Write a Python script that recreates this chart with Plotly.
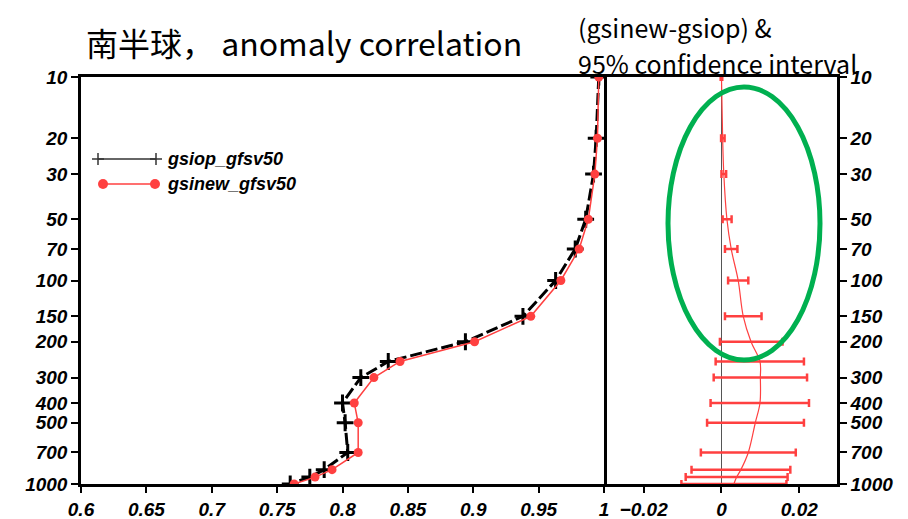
import plotly.graph_objects as go

# ---------------- data ----------------
levels = [10, 20, 30, 50, 70, 100, 150, 200, 250, 300, 400, 500, 700, 850, 925, 1000]
ytick_vals = [10, 20, 30, 50, 70, 100, 150, 200, 300, 400, 500, 700, 1000]
ytick_text = ["10", "20", "30", "50", "70", "100", "150", "200", "300", "400", "500", "700", "1000"]

gsiop = [0.996, 0.994, 0.992, 0.986, 0.978, 0.963, 0.938, 0.894, 0.835, 0.814,
         0.800, 0.802, 0.804, 0.786, 0.775, 0.760]
gsinew = [0.996, 0.995, 0.993, 0.988, 0.981, 0.967, 0.944, 0.901, 0.844, 0.824,
          0.809, 0.812, 0.812, 0.792, 0.779, 0.763]

diff = [0.0000, 0.0003, 0.0006, 0.0014, 0.0025, 0.0043, 0.0056, 0.0076, 0.0099, 0.0100,
        0.0099, 0.0087, 0.0069, 0.0050, 0.0039, 0.0032]
ci_lo = [-0.0002, -0.0001, 0.0000, 0.0003, 0.0009, 0.0017, 0.0009, -0.0004, -0.0015, -0.0020,
         -0.0028, -0.0037, -0.0053, -0.0077, -0.0092, -0.0103]
ci_hi = [0.0002, 0.0008, 0.0012, 0.0026, 0.0041, 0.0069, 0.0103, 0.0157, 0.0212, 0.0220,
         0.0225, 0.0212, 0.0191, 0.0177, 0.0170, 0.0167]

x1_ticks = [0.6, 0.65, 0.7, 0.75, 0.8, 0.85, 0.9, 0.95, 1.0]
x1_text = ["0.6", "0.65", "0.7", "0.75", "0.8", "0.85", "0.9", "0.95", "1"]
x2_ticks = [-0.02, 0, 0.02]
x2_text = ["\u22120.02", "0", "0.02"]

names = ["gsiop_gfsv50", "gsinew_gfsv50"]

# ---------------- styles ----------------
RED = "#ff4040"
GREEN = "#00b050"
tickfont = dict(family="Liberation Sans", size=19, color="black", weight="bold", style="italic")

# page body has an 8px margin; size figure so the plot lands where the reference has it
OFF = 8
W, H = 900, 511
L, R, T, B = 81 - OFF, 71, 77 - OFF, 35
pw = W - L - R
ph = H - T - B
PLOT_L, PLOT_B = 81, 484  # window pixel coords of plot area corner


def px(xp):
    return (xp - PLOT_L) / pw


def py(yp):
    return (PLOT_B - yp) / ph


split = px(604)

fig = go.Figure()

# left panel: anomaly correlation
fig.add_trace(go.Scatter(
    x=gsiop, y=levels, mode="lines+markers", name=names[0],
    line=dict(color="black", width=3, dash="12px,4px"),
    marker=dict(symbol="cross-thin", size=12, line=dict(color="black", width=3)),
    xaxis="x", yaxis="y", showlegend=False))
fig.add_trace(go.Scatter(
    x=gsinew, y=levels, mode="lines+markers", name=names[1],
    line=dict(color=RED, width=1.5),
    marker=dict(symbol="circle", size=9, color=RED),
    xaxis="x", yaxis="y", showlegend=False))

# right panel: difference with 95% CI
err_plus = [h - d for h, d in zip(ci_hi, diff)]
err_minus = [d - l for l, d in zip(ci_lo, diff)]
fig.add_trace(go.Scatter(
    x=diff, y=levels, mode="lines",
    line=dict(color=RED, width=1.2, shape="spline"),
    error_x=dict(type="data", array=err_plus, arrayminus=err_minus,
                 color=RED, thickness=2.5, width=4, symmetric=False),
    xaxis="x2", yaxis="y2", showlegend=False))

axis_common = dict(showline=True, linecolor="black", linewidth=2.5,
                   ticks="outside", tickcolor="black", tickwidth=2, showgrid=False,
                   tickfont=tickfont, automargin=False)

fig.update_layout(
    width=W, height=H,
    margin=dict(l=L, r=R, t=T, b=B, autoexpand=False),
    paper_bgcolor="white", plot_bgcolor="white",
    xaxis=dict(domain=[0, split], range=[0.6, 1.0], tickvals=x1_ticks, ticktext=x1_text,
               zeroline=False, ticklen=6, anchor="y", mirror=True, **axis_common),
    yaxis=dict(type="log", range=[3, 1], tickvals=ytick_vals, ticktext=ytick_text,
               zeroline=False, ticklen=7, anchor="x", mirror=True, **axis_common),
    xaxis2=dict(domain=[split, 1], range=[-0.0302, 0.0297], tickvals=x2_ticks, ticktext=x2_text,
                zeroline=True, zerolinecolor="#555555", zerolinewidth=1.2, ticklen=6,
                anchor="y2", mirror=True, **axis_common),
    yaxis2=dict(type="log", range=[3, 1], tickvals=ytick_vals, ticktext=ytick_text,
                side="right", zeroline=False, ticklen=7, anchor="x2", mirror=False, **axis_common),
)

shapes = []
# green ellipse highlighting upper levels
shapes.append(dict(type="circle", xref="paper", yref="paper",
                   x0=px(668), x1=px(820), y0=py(360), y1=py(87),
                   line=dict(color=GREEN, width=5)))

# custom legend (line with symbols at both ends)
ly1, ly2 = py(159), py(184)
shapes.append(dict(type="line", xref="paper", yref="paper", x0=px(98), x1=px(156), y0=ly1, y1=ly1,
                   line=dict(color="#333333", width=1.5)))
for xc in (98, 156):
    shapes.append(dict(type="line", xref="paper", yref="paper", x0=px(xc - 6), x1=px(xc + 6),
                       y0=ly1, y1=ly1, line=dict(color="#333333", width=1.5)))
    shapes.append(dict(type="line", xref="paper", yref="paper", x0=px(xc), x1=px(xc),
                       y0=py(153), y1=py(165), line=dict(color="#333333", width=1.5)))
shapes.append(dict(type="line", xref="paper", yref="paper", x0=px(103), x1=px(155), y0=ly2, y1=ly2,
                   line=dict(color=RED, width=1.5)))
for xc in (103, 155):
    shapes.append(dict(type="circle", xref="paper", yref="paper", x0=px(xc - 5), x1=px(xc + 5),
                       y0=py(189), y1=py(179), fillcolor=RED, line=dict(color=RED, width=0)))
fig.update_layout(shapes=shapes)

legfont = dict(family="Liberation Sans", size=18, color="black", weight="bold", style="italic")
titlefont = dict(family="Noto Sans CJK SC", size=32, color="black")
title2font = dict(family="Noto Sans CJK SC", size=25, color="black")
annotations = [
    dict(text=names[0], x=px(165), y=ly1, xref="paper", yref="paper", xanchor="left", yanchor="middle",
         showarrow=False, font=legfont),
    dict(text=names[1], x=px(165), y=ly2, xref="paper", yref="paper", xanchor="left", yanchor="middle",
         showarrow=False, font=legfont),
    dict(text="南半球， anomaly correlation", x=px(84), y=py(42), xref="paper", yref="paper",
         xanchor="left", yanchor="middle", showarrow=False, font=titlefont),
    dict(text="(gsinew-gsiop) &", x=px(576), y=py(27), xref="paper", yref="paper",
         xanchor="left", yanchor="middle", showarrow=False, font=title2font),
    dict(text="95% confidence interval", x=px(576), y=py(63), xref="paper", yref="paper",
         xanchor="left", yanchor="middle", showarrow=False, font=title2font),
]
fig.update_layout(annotations=annotations)

fig.write_html("out.html")
